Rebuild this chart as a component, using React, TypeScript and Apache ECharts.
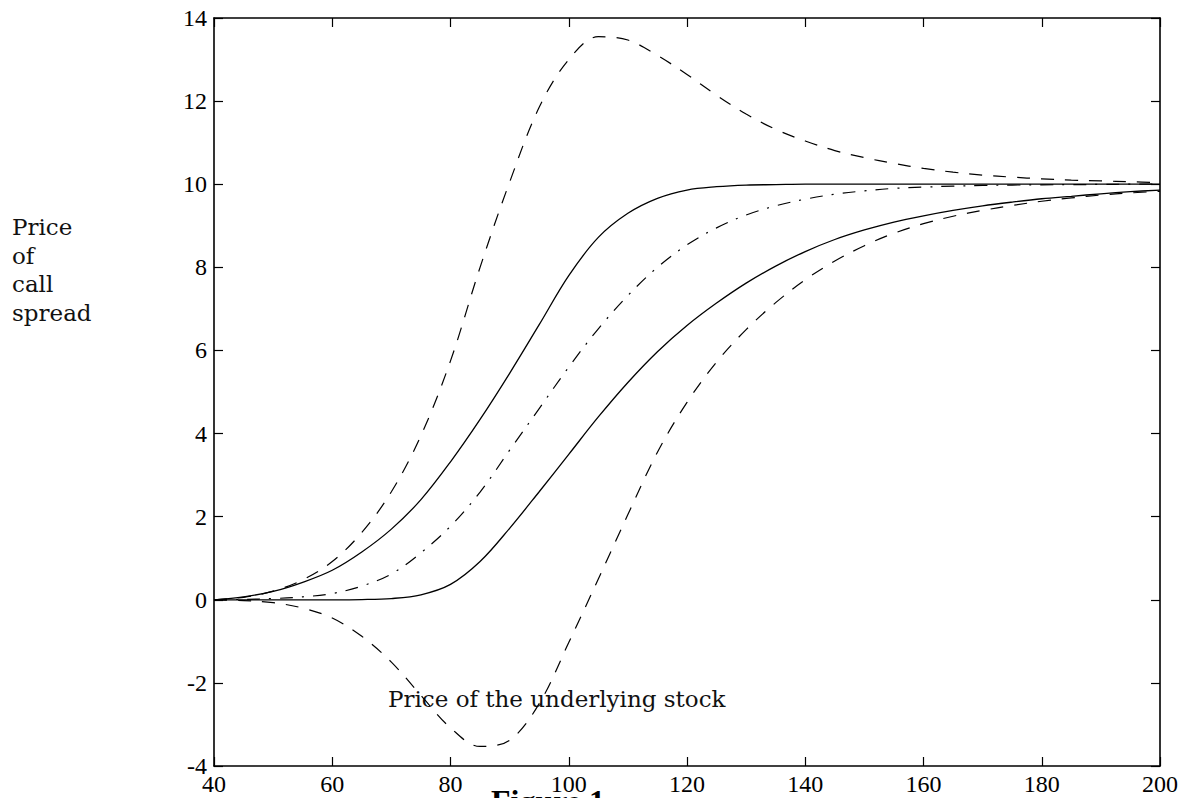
import React, { useEffect, useRef } from "react";
import * as echarts from "echarts";

const xs = [40, 45, 50, 55, 60, 65, 70, 75, 80, 85, 90, 95, 100, 105, 110, 115, 120, 125, 130, 135, 140, 145, 150, 155, 160, 165, 170, 175, 180, 185, 190, 195, 200];

const upperDashed = [0, 0.06, 0.21, 0.48, 0.92, 1.62, 2.6, 3.95, 5.75, 8.0, 10.05, 11.85, 13.0, 13.55, 13.47, 13.1, 12.64, 12.14, 11.69, 11.32, 11.04, 10.81, 10.64, 10.5, 10.38, 10.29, 10.22, 10.17, 10.13, 10.1, 10.08, 10.06, 10.04];

const solidLeft = [0, 0.07, 0.2, 0.42, 0.71, 1.15, 1.7, 2.41, 3.32, 4.34, 5.45, 6.62, 7.8, 8.72, 9.3, 9.66, 9.86, 9.94, 9.98, 9.99, 10, 10, 10, 10, 10, 10, 10, 10, 10, 10, 10, 10, 10];

const dashDot = [0, 0.01, 0.03, 0.07, 0.15, 0.33, 0.62, 1.13, 1.77, 2.59, 3.6, 4.6, 5.6, 6.52, 7.32, 8.0, 8.54, 8.95, 9.26, 9.48, 9.64, 9.76, 9.84, 9.9, 9.93, 9.955, 9.97, 9.98, 9.985, 9.99, 9.995, 10, 10];

const solidRight = [0, 0, 0, 0, 0, 0.005, 0.03, 0.12, 0.37, 0.92, 1.72, 2.6, 3.5, 4.4, 5.23, 5.97, 6.6, 7.14, 7.62, 8.03, 8.38, 8.67, 8.9, 9.09, 9.24, 9.37, 9.48, 9.57, 9.65, 9.71, 9.77, 9.82, 9.86];

const lowerDashed = [0, -0.02, -0.07, -0.2, -0.44, -0.88, -1.5, -2.3, -3.08, -3.53, -3.38, -2.5, -1.03, 0.5, 2.05, 3.55, 4.75, 5.72, 6.5, 7.15, 7.7, 8.15, 8.52, 8.82, 9.05, 9.23, 9.37, 9.49, 9.59, 9.67, 9.74, 9.79, 9.83];

const yLabelLines = ["Price", "of", "call", "spread"];
const xAxisTitle = "Price of the underlying stock";
const figureCaption = "Figure 1";

const TICK_FONT = "Liberation Serif";
const LABEL_FONT = "DejaVu Serif";

function pairs(values: number[]) {
  return xs.map((x, i) => [x, values[i]]);
}

function makeAxisCommon(showLabel: boolean, margin: number) {
  return {
    type: "value" as const,
    axisLine: { show: true, onZero: false, lineStyle: { color: "#000", width: 1.6 } },
    axisTick: { show: true, inside: true, length: 9, lineStyle: { color: "#000", width: 1.2 } },
    axisLabel: {
      show: showLabel,
      color: "#000",
      fontFamily: TICK_FONT,
      fontSize: 24,
      margin,
    },
    splitLine: { show: false },
  };
}

export default function App() {
  const ref = useRef<HTMLDivElement>(null);

  useEffect(() => {
    const chart = echarts.init(ref.current!, null, { renderer: "svg" });

    const lineBase = {
      type: "line" as const,
      showSymbol: false,
      symbol: "none",
      smooth: 0.35,
      silent: true,
      xAxisIndex: 0,
      yAxisIndex: 0,
    };

    const dashed = [13, 11];
    const dashDotPattern = [13, 9, 2, 9];

    const option = {
      animation: false,
      backgroundColor: "#fff",
      grid: { left: 214, right: 33, top: 18, bottom: 32, containLabel: false },
      xAxis: [
        { ...makeAxisCommon(true, 6), position: "bottom", min: 40, max: 200, interval: 20 },
        { ...makeAxisCommon(false, 6), position: "top", min: 40, max: 200, interval: 20 },
      ],
      yAxis: [
        { ...makeAxisCommon(true, 7), position: "left", min: -4, max: 14, interval: 2 },
        { ...makeAxisCommon(false, 7), position: "right", min: -4, max: 14, interval: 2 },
      ],
      series: [
        { ...lineBase, name: "upper", data: pairs(upperDashed), lineStyle: { color: "#000", width: 1.2, type: dashed } },
        { ...lineBase, name: "solidLeft", data: pairs(solidLeft), lineStyle: { color: "#000", width: 1.3, type: "solid" } },
        { ...lineBase, name: "dashDot", data: pairs(dashDot), lineStyle: { color: "#000", width: 1.2, type: dashDotPattern } },
        { ...lineBase, name: "solidRight", data: pairs(solidRight), lineStyle: { color: "#000", width: 1.3, type: "solid" } },
        { ...lineBase, name: "lower", data: pairs(lowerDashed), lineStyle: { color: "#000", width: 1.2, type: dashed } },
      ],
      graphic: [
        ...yLabelLines.map((t, i) => ({
          type: "text",
          x: 12,
          y: 227 + i * 28.5,
          silent: true,
          style: {
            text: t,
            fill: "#111",
            font: `23px "${LABEL_FONT}"`,
            textAlign: "left",
            textVerticalAlign: "middle",
          },
        })),
        {
          type: "text",
          x: 388,
          y: 699,
          silent: true,
          style: {
            text: xAxisTitle,
            fill: "#111",
            font: `23px "${LABEL_FONT}"`,
            textAlign: "left",
            textVerticalAlign: "middle",
          },
        },
        {
          type: "text",
          x: 491,
          y: 785,
          silent: true,
          style: {
            text: figureCaption,
            fill: "#000",
            font: `bold 32px "${TICK_FONT}"`,
            textAlign: "left",
            textVerticalAlign: "top",
          },
        },
      ],
    };

    chart.setOption(option as any);
    return () => chart.dispose();
  }, []);

  return (
    <div
      ref={ref}
      style={{ position: "fixed", left: 0, top: 0, width: 1193, height: 798, background: "#fff" }}
    />
  );
}
